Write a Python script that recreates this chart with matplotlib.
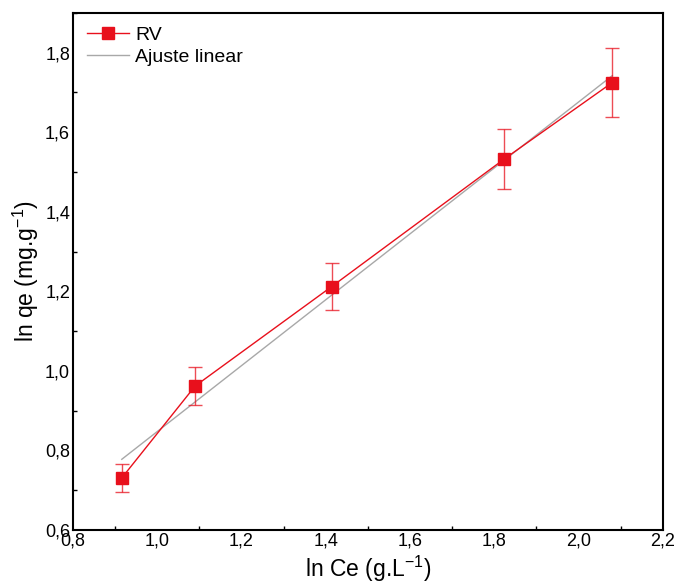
import numpy as np
import matplotlib
matplotlib.use("Agg")
import matplotlib.pyplot as plt
from matplotlib.ticker import MultipleLocator, FuncFormatter

ln_ce = [0.916, 1.09, 1.414, 1.824, 2.08]
ln_qe = [0.731, 0.962, 1.212, 1.533, 1.725]
err = [0.036, 0.048, 0.060, 0.076, 0.087]

plt.rcParams['font.family'] = ['Liberation Sans', 'DejaVu Sans']
plt.rcParams['mathtext.fontset'] = 'custom'
plt.rcParams['mathtext.rm'] = 'Liberation Sans'
plt.rcParams['mathtext.default'] = 'rm'

fig = plt.figure(figsize=(6.75, 5.87), dpi=100)
ax = fig.add_axes([0.108, 0.097, 0.874, 0.881])

red = '#e8101c'
gray = '#a8a8a8'

x = np.array(ln_ce)
y = np.array(ln_qe)
slope, intercept = np.polyfit(x, y, 1)
xf = np.array([x.min(), x.max()])
ax.plot(xf, slope * xf + intercept, color=gray, lw=1.0, label='Ajuste linear', zorder=2)

ax.errorbar(x, y, yerr=err, fmt='none', ecolor=red, elinewidth=1.0, capsize=5,
            capthick=1.0, alpha=0.75, zorder=3)
ax.plot(x, y, color=red, lw=1.0, marker='s', markersize=9, markerfacecolor=red,
        markeredgecolor=red, label='RV', zorder=4)

ax.set_xlim(0.8, 2.2)
ax.set_ylim(0.6, 1.9)
ax.xaxis.set_major_locator(MultipleLocator(0.2))
ax.yaxis.set_major_locator(MultipleLocator(0.2))
ax.xaxis.set_minor_locator(MultipleLocator(0.1))
ax.yaxis.set_minor_locator(MultipleLocator(0.1))
fmt = FuncFormatter(lambda v, p: f"{v:.1f}".replace('.', ','))
ax.xaxis.set_major_formatter(fmt)
ax.yaxis.set_major_formatter(fmt)
ax.tick_params(which='major', direction='in', length=0, labelsize=13, pad=2)
ax.tick_params(which='minor', direction='in', length=3, width=1)
ax.tick_params(top=False, right=False, which='both')
for s in ax.spines.values():
    s.set_linewidth(1.5)

ax.set_xlabel('ln Ce (g.L$^{-1}$)', fontsize=16.5, labelpad=3)
ax.set_ylabel('ln qe (mg.g$^{-1}$)', fontsize=16.5, labelpad=3)

h, l = ax.get_legend_handles_labels()
ax.legend([h[1], h[0]], [l[1], l[0]], loc='upper left', frameon=False, fontsize=14,
          handlelength=2.2, borderaxespad=0.3, labelspacing=0.2, handletextpad=0.3)

fig.savefig('out.png', dpi=100)
